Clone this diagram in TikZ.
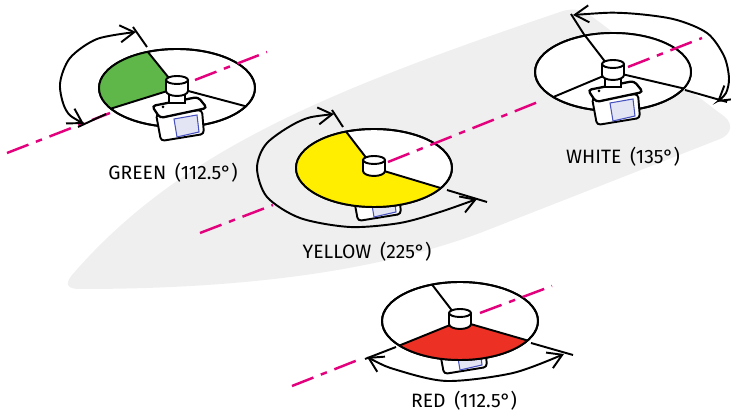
\documentclass[tikz,border=0pt]{standalone}
\usepackage{fontspec}
\setmainfont{Fira Sans}
\usetikzlibrary{arrows.meta}
\tikzset{>={Straight Barb[length=2.8mm,width=3.4mm]}}
\definecolor{boatgrey}{RGB}{239,239,239}
\definecolor{axispink}{RGB}{228,0,124}
\definecolor{lampgreen}{RGB}{94,183,72}
\definecolor{lampyellow}{RGB}{255,238,0}
\definecolor{lampred}{RGB}{236,48,36}
\definecolor{labelblue}{RGB}{70,80,190}
\tikzset{
    centreline/.style={axispink,line width=1.4pt,dash pattern=on 4.6mm off 1.6mm on 1.3mm off 1.6mm},
    lighttag/.style={font=\fontsize{11}{13}\selectfont,inner sep=0pt}
}
\newcommand\lightring[5]{
    \draw[fill=white] (#1,#2) ellipse[x radius=78,y radius=39];
    \fill[#5] (#1,#2) -- ({#1+78*cos(#3)},{#2-39*sin(#3)}) arc[start angle=-#3,end angle=-#4,x radius=78,y radius=39] -- cycle;
    \draw (#1,#2) ellipse[x radius=78,y radius=39];
}
\newcommand\spoke[3]{
    \draw (#1,#2) -- ({#1+78*cos(#3)},{#2-39*sin(#3)});
}
\newcommand\servo[2]{
    \draw[fill=white,rounded corners=2pt] (#1-21,#2+26) -- (#1+25,#2+22) -- (#1+27,#2+46) -- (#1-16,#2+53) -- cycle;
    \draw[labelblue,fill=labelblue!15,line width=0.6pt] (#1-3,#2+31) -- (#1+20,#2+27) -- (#1+22,#2+44) -- (#1,#2+49) -- cycle;
}
\newcommand\dome[2]{
    \draw[fill=white] (#1-11,#2-8) -- (#1-11,#2+3) arc[start angle=180,end angle=0,x radius=11,y radius=5] -- (#1+11,#2-8);
    \draw[fill=white] (#1,#2-8) ellipse[x radius=11,y radius=4];
}
\newcommand\lamp[2]{
    \servo{#1}{#2}
    \draw[fill=white,rounded corners=2pt,line width=1.3pt] (#1-25,#2+18) -- (#1+21,#2+9) -- (#1+30,#2+20) -- (#1-17,#2+30) -- cycle;
    \fill (#1-14,#2+19) circle[radius=1.5];
    \draw[fill=white] (#1-8,#2+5) rectangle (#1+8,#2+15);
    \dome{#1}{#2}
}

\begin{document}
\begin{tikzpicture}[x=0.2mm,y=-0.2mm,line width=1.1pt]
    \useasboundingbox (0,0) rectangle (731,414);
    \fill[boatgrey] (80,289) .. controls (250,289) and (380,270) .. (480,233) -- (720,139)
        .. controls (732,134) and (733,124) .. (725,117) -- (590,15)
        .. controls (582,9) and (570,8) .. (560,12)
        .. controls (330,90) and (180,150) .. (72,275)
        .. controls (64,285) and (68,289) .. (80,289) -- cycle;

    \draw[centreline] (7,153) -- (110,113);
    \lightring{177}{88}{112}{212}{lampgreen}
    \spoke{177}{88}{112} \spoke{177}{88}{212} \spoke{177}{88}{332}
    \draw[centreline] (195,80) -- (267,52);
    \lamp{177}{88}
    \draw (147,47) -- (133,27);
    \draw (106,114) -- (78,127);
    \draw[<->] plot[smooth] coordinates {(84,124) (66,110) (60,84) (70,58) (97,39) (136,32)};
    \node[lighttag] (greentag) at (173,173) {GREEN\hspace{0.45em}(112.5°)};

    \draw[centreline] (200,233) -- (273,205);
    \servo{374}{168}
    \lightring{374}{168}{111}{329}{lampyellow}
    \spoke{374}{168}{111} \spoke{374}{168}{329}
    \dome{374}{168}
    \draw[centreline] (388,162) -- (543,100);
    \draw (343,127) -- (332,110);
    \draw (447,190) -- (487,202);
    \draw[<->] plot[smooth] coordinates {(334,114) (300,121) (267,143) (257,168) (267,197) (300,218) (350,227) (400,223) (440,212) (477,199)};
    \node[lighttag] (yellowtag) at (367,252) {YELLOW\hspace{0.45em}(225°)};

    \lightring{613}{72}{335}{471}{white}
    \spoke{613}{72}{111} \spoke{613}{72}{220} \spoke{613}{72}{335}
    \lamp{613}{72}
    \draw[centreline] (628,67) -- (702,38);
    \draw (585,36) -- (571,14);
    \draw (685,90) -- (727,102);
    \draw[<->] plot[smooth] coordinates {(573,15) (623,13) (673,19) (707,33) (724,56) (729,78) (726,93) (717,102)};
    \node[lighttag] (whitetag) at (623,157) {WHITE\hspace{0.45em}(135°)};

    \draw[centreline] (292,386) -- (363,358);
    \servo{460}{321}
    \lightring{460}{321}{219}{330}{lampred}
    \spoke{460}{321}{111} \spoke{460}{321}{219} \spoke{460}{321}{330}
    \dome{460}{321}
    \draw[centreline] (480,313) -- (552,286);
    \draw (396,347) -- (365,359);
    \draw (531,343) -- (573,355);
    \draw[<->] plot[smooth] coordinates {(367,357) (397,370) (447,381) (513,373) (564,354)};
    \node[lighttag] (redtag) at (464,401) {RED\hspace{0.45em}(112.5°)};
\end{tikzpicture}
\end{document}
